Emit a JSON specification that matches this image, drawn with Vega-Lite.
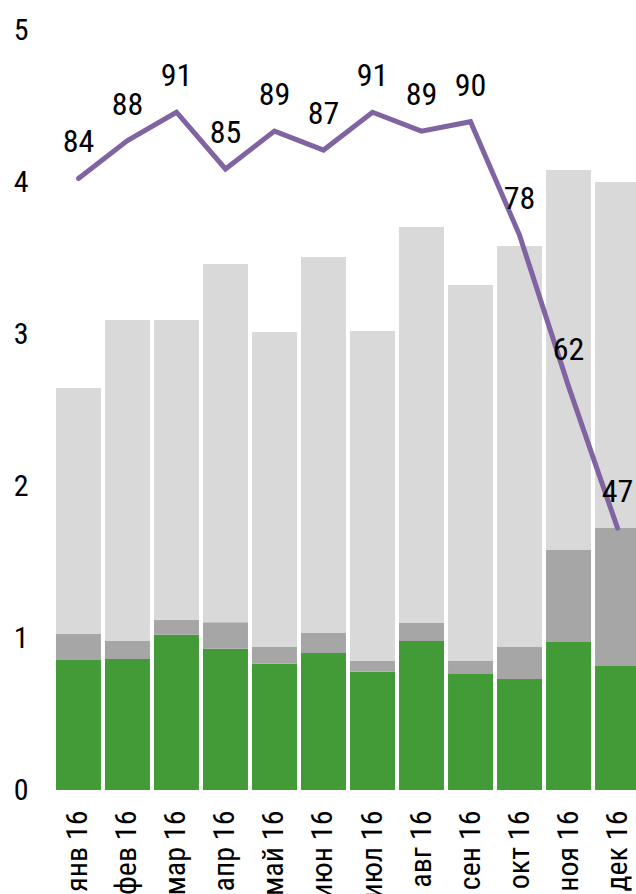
{
  "$schema": "https://vega.github.io/schema/vega-lite/v6.json",
  "width": 582,
  "height": 760,
  "autosize": {"type": "none"},
  "padding": {"left": 54, "top": 30, "right": 0, "bottom": 104},
  "background": "white",
  "config": {"view": {"stroke": null}, "font": "Roboto Condensed, Liberation Sans"},
  "datasets": {
    "bars": [
      {"month": "янв 16", "part": "s1", "ord": 1, "value": 0.855},
      {"month": "янв 16", "part": "s2", "ord": 2, "value": 0.171},
      {"month": "янв 16", "part": "s3", "ord": 3, "value": 1.619},
      {"month": "фев 16", "part": "s1", "ord": 1, "value": 0.862},
      {"month": "фев 16", "part": "s2", "ord": 2, "value": 0.118},
      {"month": "фев 16", "part": "s3", "ord": 3, "value": 2.112},
      {"month": "мар 16", "part": "s1", "ord": 1, "value": 1.022},
      {"month": "мар 16", "part": "s2", "ord": 2, "value": 0.098},
      {"month": "мар 16", "part": "s3", "ord": 3, "value": 1.972},
      {"month": "апр 16", "part": "s1", "ord": 1, "value": 0.930},
      {"month": "апр 16", "part": "s2", "ord": 2, "value": 0.173},
      {"month": "апр 16", "part": "s3", "ord": 3, "value": 2.358},
      {"month": "май 16", "part": "s1", "ord": 1, "value": 0.831},
      {"month": "май 16", "part": "s2", "ord": 2, "value": 0.110},
      {"month": "май 16", "part": "s3", "ord": 3, "value": 2.072},
      {"month": "июн 16", "part": "s1", "ord": 1, "value": 0.901},
      {"month": "июн 16", "part": "s2", "ord": 2, "value": 0.132},
      {"month": "июн 16", "part": "s3", "ord": 3, "value": 2.474},
      {"month": "июл 16", "part": "s1", "ord": 1, "value": 0.778},
      {"month": "июл 16", "part": "s2", "ord": 2, "value": 0.073},
      {"month": "июл 16", "part": "s3", "ord": 3, "value": 2.169},
      {"month": "авг 16", "part": "s1", "ord": 1, "value": 0.980},
      {"month": "авг 16", "part": "s2", "ord": 2, "value": 0.119},
      {"month": "авг 16", "part": "s3", "ord": 3, "value": 2.605},
      {"month": "сен 16", "part": "s1", "ord": 1, "value": 0.763},
      {"month": "сен 16", "part": "s2", "ord": 2, "value": 0.086},
      {"month": "сен 16", "part": "s3", "ord": 3, "value": 2.473},
      {"month": "окт 16", "part": "s1", "ord": 1, "value": 0.730},
      {"month": "окт 16", "part": "s2", "ord": 2, "value": 0.211},
      {"month": "окт 16", "part": "s3", "ord": 3, "value": 2.638},
      {"month": "ноя 16", "part": "s1", "ord": 1, "value": 0.974},
      {"month": "ноя 16", "part": "s2", "ord": 2, "value": 0.605},
      {"month": "ноя 16", "part": "s3", "ord": 3, "value": 2.500},
      {"month": "дек 16", "part": "s1", "ord": 1, "value": 0.816},
      {"month": "дек 16", "part": "s2", "ord": 2, "value": 0.908},
      {"month": "дек 16", "part": "s3", "ord": 3, "value": 2.276}
    ],
    "line": [
      {"month": "янв 16", "pct": 84},
      {"month": "фев 16", "pct": 88},
      {"month": "мар 16", "pct": 91},
      {"month": "апр 16", "pct": 85},
      {"month": "май 16", "pct": 89},
      {"month": "июн 16", "pct": 87},
      {"month": "июл 16", "pct": 91},
      {"month": "авг 16", "pct": 89},
      {"month": "сен 16", "pct": 90},
      {"month": "окт 16", "pct": 78},
      {"month": "ноя 16", "pct": 62},
      {"month": "дек 16", "pct": 47}
    ]
  },
  "encoding": {
    "x": {
      "field": "month",
      "type": "nominal",
      "sort": ["янв 16", "фев 16", "мар 16", "апр 16", "май 16", "июн 16", "июл 16", "авг 16", "сен 16", "окт 16", "ноя 16", "дек 16"],
      "scale": {"range": [0, 588], "paddingInner": 0.082, "paddingOuter": 0.04},
      "axis": {
        "title": null,
        "labelAngle": -90,
        "ticks": false,
        "tickSize": 0,
        "domain": false,
        "grid": false,
        "labelFont": "Roboto Condensed, Liberation Sans",
        "labelFontSize": 30,
        "labelColor": "black",
        "labelPadding": 20
      }
    }
  },
  "layer": [
    {
      "data": {"name": "bars"},
      "mark": {"type": "bar"},
      "encoding": {
        "y": {
          "field": "value",
          "type": "quantitative",
          "stack": "zero",
          "scale": {"domain": [0, 5], "nice": false},
          "axis": {
            "title": null,
            "values": [0, 1, 2, 3, 4, 5],
            "ticks": false,
            "tickSize": 0,
            "domain": false,
            "grid": false,
            "labelFlush": false,
            "labelFont": "Roboto Condensed, Liberation Sans",
            "labelFontSize": 30,
            "labelColor": "black",
            "labelPadding": 26
          }
        },
        "color": {
          "field": "part",
          "type": "nominal",
          "scale": {"domain": ["s1", "s2", "s3"], "range": ["#439B38", "#A6A6A6", "#D9D9D9"]},
          "legend": null
        },
        "order": {"field": "ord", "type": "quantitative"}
      }
    },
    {
      "data": {"name": "line"},
      "encoding": {
        "y": {
          "field": "pct",
          "type": "quantitative",
          "scale": {"domain": [19.3, 99.7], "nice": false, "zero": false},
          "axis": null
        }
      },
      "layer": [
        {
          "mark": {"type": "line", "color": "#8064A2", "strokeWidth": 5, "strokeCap": "round", "strokeJoin": "miter"}
        },
        {
          "mark": {"type": "text", "dy": -36, "baseline": "middle", "align": "center", "fontSize": 32, "font": "Roboto Condensed, Liberation Sans", "color": "black"},
          "encoding": {"text": {"field": "pct", "type": "quantitative"}}
        }
      ]
    }
  ],
  "resolve": {"scale": {"y": "independent"}}
}
